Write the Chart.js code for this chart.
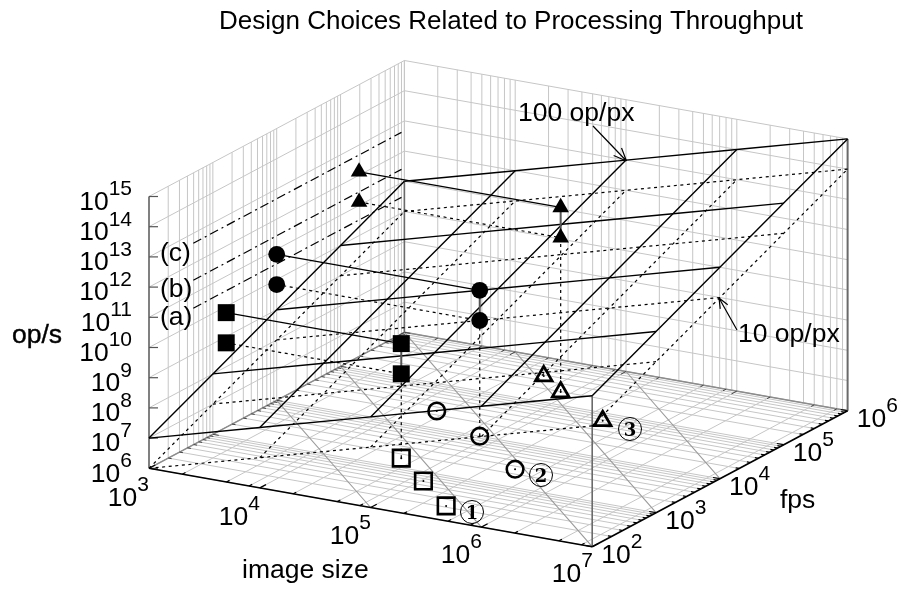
<!DOCTYPE html>
<html>
<head>
<meta charset="utf-8">
<title>Design Choices Related to Processing Throughput</title>
<style>
  html, body { margin: 0; padding: 0; background: #fff; }
  canvas { display: block; }
</style>
<script src="https://cdn.jsdelivr.net/npm/chart.js@4"></script>
</head>
<body>
<canvas id="chart" width="901" height="589"></canvas>
<script>
// axis values
const imageSizeTicks = [1e3, 1e4, 1e5, 1e6, 1e7];
const fpsTicks = [1e2, 1e3, 1e4, 1e5, 1e6];
const opsTicks = [1e6, 1e7, 1e8, 1e9, 1e10, 1e11, 1e12, 1e13, 1e14, 1e15];
const wallMinorSteps = [2, 3, 4, 5, 6, 7, 8, 9];
const floorImageSteps = [2, 5, 8];

// op/s surfaces, one row per fps tick, one column per image size tick
const surface100 = [
  [1e7, 1e8, 1e9, 1e10, 1e11],
  [1e8, 1e9, 1e10, 1e11, 1e12],
  [1e9, 1e10, 1e11, 1e12, 1e13],
  [1e10, 1e11, 1e12, 1e13, 1e14],
  [1e11, 1e12, 1e13, 1e14, 1e15]
];
const surface10 = [
  [1e6, 1e7, 1e8, 1e9, 1e10],
  [1e7, 1e8, 1e9, 1e10, 1e11],
  [1e8, 1e9, 1e10, 1e11, 1e12],
  [1e9, 1e10, 1e11, 1e12, 1e13],
  [1e10, 1e11, 1e12, 1e13, 1e14]
];

// floor contours of image size x fps: [imageSize, fps] ends
const contourEnds = [
  [[1e3, 1e4], [1e5, 1e2]],
  [[1e3, 1e5], [1e6, 1e2]],
  [[1e3, 1e6], [1e7, 1e2]],
  [[1e4, 1e6], [1e7, 1e3]],
  [[1e5, 1e6], [1e7, 1e4]]
];

// design points on the floor
const squareImageSize = [3.8e4, 1.05e5, 3.1e5];
const squareFps = [1620, 617, 214];
const circleImageSize = [1.66e4, 6.8e4, 3.1e5];
const circleFps = [2.45e4, 1e4, 2570];
const triangleImageSize = [3.16e4, 6.6e4, 2.95e5];
const triangleFps = [3.8e5, 1.95e5, 6.6e4];

// the points lifted to 10 and 100 op/px
const liftedImageSize = [3.8e4, 6.8e4, 6.6e4];
const liftedFps = [1620, 1e4, 1.95e5];
const liftedOps10 = [6.2e8, 6.8e9, 1.3e11];
const liftedOps100 = [6.2e9, 6.8e10, 1.3e12];

// (a) (b) (c) throughput levels on the left wall
const levelNames = ['(a)', '(b)', '(c)'];
const levelOps = [3.3e10, 2.8e11, 4.7e12];
const levelFps = [494, 9e5];

// 3D view, pixels per decade
const origin = { x: 149, y: 468.3 };
const xStep = { x: 110.8, y: 19.6 };
const yStep = { x: 63.85, y: -34 };
const zStep = 30.2;

function project(imageSize, fps, ops) {
  const a = Math.log10(imageSize / 1e3);
  const b = Math.log10(fps / 1e2);
  const c = Math.log10(ops / 1e6);
  return {
    x: origin.x + a * xStep.x + b * yStep.x,
    y: origin.y + a * xStep.y + b * yStep.y - c * zStep
  };
}

const xMin = imageSizeTicks[0], xMax = imageSizeTicks[4];
const yMin = fpsTicks[0], yMax = fpsTicks[4];
const zMin = opsTicks[0], zMax = opsTicks[9];

const layers = [];

function line(points, color, width, dash) {
  layers.push({
    data: points,
    showLine: true,
    borderColor: color,
    borderWidth: width,
    borderDash: dash || [],
    pointRadius: 0,
    fill: false
  });
}

function markers(points, style, radius, fillColor, edgeColor, edgeWidth) {
  layers.push({
    data: points,
    showLine: false,
    pointStyle: style,
    pointRadius: radius,
    pointBackgroundColor: fillColor,
    pointBorderColor: edgeColor,
    pointBorderWidth: edgeWidth
  });
}

function tick(point, dir, length, color, width) {
  line([point, { x: point.x + dir.x * length, y: point.y + dir.y * length }], color, width);
}

const GRID = '#c6c6c6';
const CONTOUR = '#9a9a9a';
const EDGE = '#6a6a6a';
const DOTS = [3, 3.6];
const DASHDOT = [9, 4, 2, 4];

// wall grids
opsTicks.forEach(z => {
  line([project(xMin, yMin, z), project(xMin, yMax, z)], GRID, 1);
  line([project(xMin, yMax, z), project(xMax, yMax, z)], GRID, 1);
});
fpsTicks.forEach((y, i) => {
  line([project(xMin, y, zMin), project(xMin, y, zMax)], GRID, 1);
  if (i < 4) {
    wallMinorSteps.forEach(s => line([project(xMin, y * s, zMin), project(xMin, y * s, zMax)], GRID, 1));
  }
});
imageSizeTicks.forEach((x, i) => {
  line([project(x, yMax, zMin), project(x, yMax, zMax)], GRID, 1);
  if (i < 4) {
    wallMinorSteps.forEach(s => line([project(x * s, yMax, zMin), project(x * s, yMax, zMax)], GRID, 1));
  }
});

// floor grid
fpsTicks.forEach((y, i) => {
  line([project(xMin, y, zMin), project(xMax, y, zMin)], GRID, 1);
  if (i < 4) {
    wallMinorSteps.forEach(s => line([project(xMin, y * s, zMin), project(xMax, y * s, zMin)], GRID, 1));
  }
});
imageSizeTicks.forEach((x, i) => {
  line([project(x, yMin, zMin), project(x, yMax, zMin)], GRID, 1);
  if (i < 4) {
    floorImageSteps.forEach(s => line([project(x * s, yMin, zMin), project(x * s, yMax, zMin)], GRID, 1));
  }
});

// floor contours
contourEnds.forEach(ends => {
  line(ends.map(e => project(e[0], e[1], zMin)), CONTOUR, 1.1);
});

// back edges of the floor with their mirrored ticks
const alongFps = { x: 0.883, y: -0.47 };
const alongImage = { x: -0.985, y: -0.174 };
const backImage = { x: -alongFps.x, y: -alongFps.y };
const backFps = { x: -alongImage.x, y: -alongImage.y };
line([project(xMin, yMin, zMin), project(xMin, yMax, zMin)], '#8c8c8c', 1.5);
line([project(xMin, yMax, zMin), project(xMax, yMax, zMin)], '#8c8c8c', 1.5);
imageSizeTicks.forEach((x, i) => {
  tick(project(x, yMax, zMin), backImage, 6, '#444', 1);
  tick(project(x, yMin, zMin), alongFps, 7, '#000', 1.2);
  if (i < 4) {
    floorImageSteps.forEach(s => {
      tick(project(x * s, yMax, zMin), backImage, 3.5, '#444', 1);
      tick(project(x * s, yMin, zMin), alongFps, 3.5, '#000', 1.2);
    });
  }
});
fpsTicks.forEach((y, i) => {
  tick(project(xMin, y, zMin), backFps, 6, '#444', 1);
  tick(project(xMax, y, zMin), alongImage, 7, '#000', 1.2);
  if (i < 4) {
    wallMinorSteps.forEach(s => {
      tick(project(xMin, y * s, zMin), backFps, 3.5, '#444', 1);
      tick(project(xMax, y * s, zMin), alongImage, 3.5, '#000', 1.2);
    });
  }
});

// corner posts and the op/s axis
line([project(xMin, yMin, zMin), project(xMin, yMin, zMax)], '#808080', 2);
line([project(xMax, yMin, zMin), project(xMax, yMin, surface100[0][4])], EDGE, 1.6);
line([project(xMax, yMax, zMin), project(xMax, yMax, surface100[4][4])], EDGE, 2);
line([project(xMin, yMax, zMin), project(xMin, yMax, surface100[4][0])], EDGE, 1.6);
opsTicks.forEach(z => tick(project(xMin, yMin, z), { x: 1, y: 0 }, 9, '#555', 1.2));

// (a) (b) (c) levels
levelOps.forEach(z => {
  line(levelFps.map(y => project(xMin, y, z)), '#000', 1.2, DASHDOT);
});

// isolines of both surfaces
function surface(table, color, width, dash) {
  fpsTicks.forEach((y, r) => {
    line(imageSizeTicks.map((x, c) => project(x, y, table[r][c])), color, width, dash);
  });
  imageSizeTicks.forEach((x, c) => {
    line(fpsTicks.map((y, r) => project(x, y, table[r][c])), color, width, dash);
  });
}
surface(surface10, '#000', 1.2, DOTS);
surface(surface100, '#000', 1.4);

// front edges
line([project(xMin, yMin, zMin), project(xMax, yMin, zMin)], '#000', 1.6);
line([project(xMax, yMin, zMin), project(xMax, yMax, zMin)], '#000', 1.6);

// drop lines and links between the lifted points and their wall copies
liftedImageSize.forEach((x, i) => {
  const y = liftedFps[i];
  line([project(x, y, zMin), project(x, y, liftedOps10[i])], '#000', 1.2, DOTS);
  line([project(x, y, liftedOps10[i]), project(x, y, liftedOps100[i])], '#555', 2);
  line([project(xMin, y, liftedOps100[i]), project(x, y, liftedOps100[i])], '#000', 1.3);
  line([project(xMin, y, liftedOps10[i]), project(x, y, liftedOps10[i])], '#000', 1.2, DOTS);
});

// filled markers
const filledStyles = ['rect', 'circle', 'triangle'];
const filledRadius = [12, 8.4, 9.6];
liftedImageSize.forEach((x, i) => {
  const y = liftedFps[i];
  const pts = [
    project(x, y, liftedOps100[i]),
    project(x, y, liftedOps10[i]),
    project(xMin, y, liftedOps100[i]),
    project(xMin, y, liftedOps10[i])
  ];
  markers(pts, filledStyles[i], filledRadius[i], '#000', '#000', 0);
});

// open markers on the floor, each with a centre dot
function floorPoints(xs, ys) {
  return xs.map((x, i) => project(x, ys[i], zMin));
}
const squarePts = floorPoints(squareImageSize, squareFps);
const circlePts = floorPoints(circleImageSize, circleFps);
const trianglePts = floorPoints(triangleImageSize, triangleFps);
markers(squarePts, 'rect', 11.7, 'rgba(0,0,0,0)', '#000', 2.6);
markers(circlePts, 'circle', 8.3, 'rgba(0,0,0,0)', '#000', 2.6);
markers(trianglePts, 'triangle', 9.6, 'rgba(0,0,0,0)', '#000', 2.8);
markers(squarePts.concat(circlePts, trianglePts), 'circle', 1, '#000', '#000', 0);

// first in the array is painted last by Chart.js
const datasets = layers.slice().reverse();

const FONT = '"Liberation Sans", Arial, sans-serif';
const BIG = 26.5;
const SMALL = 21;

function power(ctx, exp, x, baseline, alignRight) {
  ctx.font = BIG + 'px ' + FONT;
  const w = ctx.measureText('10').width;
  ctx.font = SMALL + 'px ' + FONT;
  const e = ctx.measureText(exp).width;
  const left = alignRight ? x - w - e : x - 2;
  ctx.font = BIG + 'px ' + FONT;
  ctx.fillText('10', left, baseline);
  ctx.font = SMALL + 'px ' + FONT;
  ctx.fillText(exp, left + w, baseline - 14.5);
}

function circled(ctx, digit, x, y) {
  ctx.save();
  ctx.lineWidth = 1;
  ctx.strokeStyle = '#000';
  ctx.beginPath();
  ctx.arc(x, y, 11.5, 0, Math.PI * 2);
  ctx.stroke();
  ctx.font = 'bold 18px "DejaVu Serif", serif';
  ctx.textAlign = 'center';
  ctx.textBaseline = 'alphabetic';
  ctx.fillText(digit, x, y + 6.5);
  ctx.restore();
}

function arrow(ctx, x0, y0, x1, y1, size) {
  const ang = Math.atan2(y1 - y0, x1 - x0);
  ctx.beginPath();
  ctx.moveTo(x0, y0);
  ctx.lineTo(x1, y1);
  [-0.4, 0.4].forEach(d => {
    ctx.moveTo(x1, y1);
    ctx.lineTo(x1 - size * Math.cos(ang + d), y1 - size * Math.sin(ang + d));
  });
  ctx.stroke();
}

const labelPlugin = {
  id: 'labelPlugin',
  afterDraw(chart) {
    const ctx = chart.ctx;
    ctx.save();
    ctx.fillStyle = '#000';
    ctx.strokeStyle = '#000';
    ctx.textAlign = 'left';
    ctx.textBaseline = 'alphabetic';

    ctx.font = '26px ' + FONT;
    ctx.fillText('Design Choices Related to Processing Throughput', 219, 29);

    opsTicks.forEach(z => {
      const p = project(xMin, yMin, z);
      power(ctx, String(Math.log10(z)), 132, p.y + 13.3, true);
    });
    imageSizeTicks.forEach((x, i) => {
      power(ctx, String(Math.log10(x)), 149 + 111 * i, 505.7 + 19 * i, true);
    });
    fpsTicks.forEach((y, i) => {
      power(ctx, String(Math.log10(y)), 603.3 + 63.85 * i, 562.7 - 34 * i, false);
    });

    ctx.font = BIG + 'px ' + FONT;
    ctx.fillText('op/s', 12, 343);
    ctx.lineWidth = 0.4;
    ctx.strokeText('op/s', 12, 343);
    ctx.fillText('image size', 242, 578);
    ctx.fillText('fps', 780, 508);
    ctx.fillText('100 op/px', 518, 121);
    ctx.fillText('10 op/px', 738, 342);

    const levelY = [325, 297, 261];
    levelNames.forEach((name, i) => ctx.fillText(name, 160, levelY[i]));

    ctx.lineWidth = 1.2;
    arrow(ctx, 593, 126, 626.5, 161, 14);
    arrow(ctx, 737, 330, 719, 298, 11);

    circled(ctx, '1', 472, 512);
    circled(ctx, '2', 541, 475);
    circled(ctx, '3', 630, 429);
    ctx.restore();
  }
};

new Chart(document.getElementById('chart'), {
  type: 'scatter',
  data: { datasets: datasets },
  options: {
    responsive: false,
    animation: false,
    layout: { padding: 0, autoPadding: false },
    plugins: { legend: { display: false }, tooltip: { enabled: false } },
    scales: {
      x: { type: 'linear', min: 0, max: 901, display: false },
      y: { type: 'linear', min: 0, max: 589, reverse: true, display: false }
    }
  },
  plugins: [labelPlugin]
});
</script>
</body>
</html>
